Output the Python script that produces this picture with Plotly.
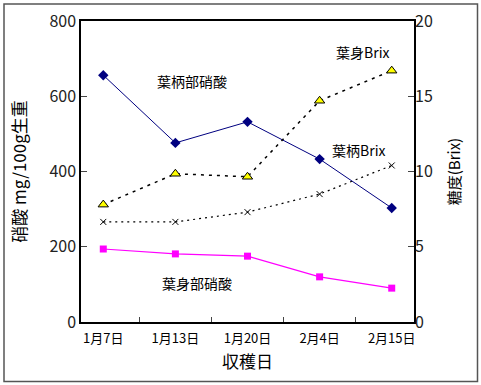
import plotly.graph_objects as go

dates = ["1月7日", "1月13日", "1月20日", "2月4日", "2月15日"]
petiole_nitrate = [656, 476, 532, 433, 303]
blade_nitrate = [194, 181, 175, 120, 90]
blade_brix = [7.8, 9.85, 9.65, 14.7, 16.7]
petiole_brix = [6.65, 6.65, 7.3, 8.5, 10.4]

FONT = "Noto Sans CJK JP, Noto Sans, sans-serif"

fig = go.Figure()
fig.add_trace(go.Scatter(x=dates, y=petiole_nitrate, mode="lines+markers",
                         line=dict(color="#000080", width=1),
                         marker=dict(symbol="diamond", size=8, color="#000080"),
                         yaxis="y", name="葉柄部硝酸"))
fig.add_trace(go.Scatter(x=dates, y=blade_nitrate, mode="lines+markers",
                         line=dict(color="#FF00FF", width=1.2),
                         marker=dict(symbol="square", size=7, color="#FF00FF"),
                         yaxis="y", name="葉身部硝酸"))
fig.add_trace(go.Scatter(x=dates, y=blade_brix, mode="lines+markers",
                         line=dict(color="black", width=1.5, dash="3px,5px"),
                         marker=dict(symbol="triangle-up", size=9, color="#FFFF00",
                                     line=dict(color="black", width=1)),
                         yaxis="y2", name="葉身Brix"))
fig.add_trace(go.Scatter(x=dates, y=petiole_brix, mode="lines+markers",
                         line=dict(color="black", width=1.2, dash="2px,4px"),
                         marker=dict(symbol="x-thin", size=6, color="black",
                                     line=dict(color="black", width=1)),
                         yaxis="y2", name="葉柄Brix"))

L, R, T, B = 81, 67, 21, 63
W, H = 481, 385
pw, ph = W - L - R, H - T - B

def px(x):
    return (x - L) / pw

def py(y):
    return (H - B - y) / ph

fig.add_shape(type="rect", xref="paper", yref="paper",
              x0=px(4), x1=px(477.5), y0=py(381.5), y1=py(4),
              line=dict(color="#555555", width=1.5))

ann = [("葉柄部硝酸", 192, 81), ("葉身Brix", 362, 52), ("葉柄Brix", 358, 150), ("葉身部硝酸", 197, 283)]
for t, x, y in ann:
    fig.add_annotation(text=t, xref="paper", yref="paper", x=px(x), y=py(y),
                       xanchor="center", yanchor="middle",
                       showarrow=False, font=dict(size=14, color="black", family=FONT))

fig.update_layout(
    width=W, height=H,
    margin=dict(l=L, r=R, t=T, b=B, autoexpand=False),
    paper_bgcolor="white", plot_bgcolor="white",
    showlegend=False,
    font=dict(family=FONT, color="black"),
    xaxis=dict(type="category", tickson="boundaries", ticks="inside", ticklen=5,
               showline=True, linecolor="black", linewidth=1.5, mirror=True,
               showgrid=False, tickfont=dict(size=13), automargin=False,
               ticklabelstandoff=4,
               title=dict(text="収穫日", font=dict(size=17), standoff=10)),
    yaxis=dict(range=[0, 800], dtick=200, ticks="inside", ticklen=6,
               showline=True, linecolor="black", linewidth=1.5, mirror=True,
               showgrid=False, zeroline=False, tickfont=dict(size=16, color="#222"),
               automargin=False,
               title=dict(text="硝酸 mg/100g生重", font=dict(size=17), standoff=18)),
    yaxis2=dict(range=[0, 20], dtick=5, overlaying="y", side="right",
                ticks="inside", ticklen=6, showline=False, automargin=False,
                showgrid=False, zeroline=False, tickfont=dict(size=16, color="#222"),
                title=dict(text="糖度(Brix)", font=dict(size=15), standoff=17)),
)

fig.write_html("out.html", config={"displayModeBar": False},
               post_script="document.body.style.margin='0';")
